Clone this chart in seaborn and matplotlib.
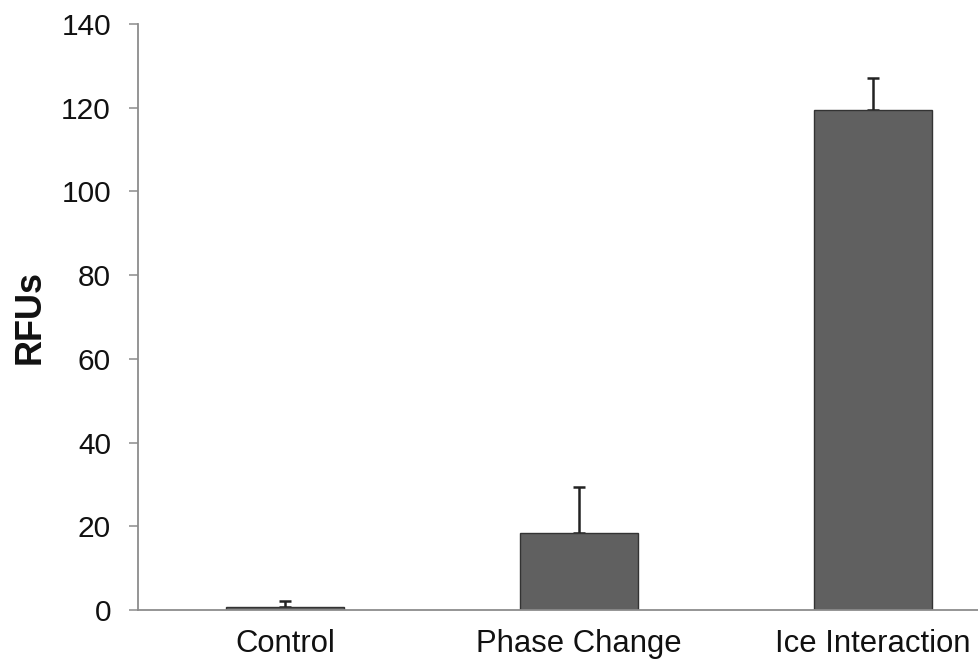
import matplotlib
matplotlib.use("Agg")
import matplotlib.pyplot as plt
import seaborn as sns
import pandas as pd

# Fluorescence readings per treatment (mean and upper error)
categories = ["Control", "Phase Change", "Ice Interaction"]
rfu_mean = [0.7, 18.4, 119.4]
rfu_err = [1.4, 11.0, 7.7]
y_ticks = [0, 20, 40, 60, 80, 100, 120, 140]

sns.set_theme(style="white")
plt.rcParams["font.family"] = ["Liberation Sans", "DejaVu Sans"]

df = pd.DataFrame({"Treatment": categories, "RFUs": rfu_mean})

fig = plt.figure(figsize=(9.79, 6.69), dpi=100)
ax = fig.add_axes([138 / 979, 59 / 669, 882 / 979, 586 / 669])

sns.barplot(data=df, x="Treatment", y="RFUs", order=categories,
            color="#606060", saturation=1, width=0.4,
            edgecolor="#333333", linewidth=1.0, errorbar=None, ax=ax,
            zorder=2)

# one-sided (upper) error bars, drawn behind the bars so only the upper whisker shows
xs = list(range(len(categories)))
ax.errorbar(xs, rfu_mean, yerr=[[0] * len(rfu_err), rfu_err], fmt="none",
            ecolor="#222222", elinewidth=1.8, capsize=4, capthick=1.8, zorder=1)

ax.set_xlim(-0.5, 2.5)
ax.set_ylim(0, 140)
ax.set_yticks(y_ticks)
ax.set_yticklabels([str(t) for t in y_ticks])

ax.set_xlabel("")
ax.set_ylabel("RFUs", fontsize=26, fontweight="bold", color="#111111")
ax.yaxis.set_label_coords(-0.103, 0.5)

for side in ["top", "right"]:
    ax.spines[side].set_visible(False)
for side in ["left", "bottom"]:
    ax.spines[side].set_color("#8c8c8c")
    ax.spines[side].set_linewidth(1.3)
    ax.spines[side].set_zorder(3)

ax.tick_params(axis="y", which="both", left=True, length=6.5, width=1.1,
               color="#8c8c8c", pad=13, labelsize=21.5, labelcolor="#111111")
ax.tick_params(axis="x", which="both", bottom=False, length=0, pad=14,
               labelsize=22.3, labelcolor="#111111")

fig.savefig("out.png", dpi=100)
